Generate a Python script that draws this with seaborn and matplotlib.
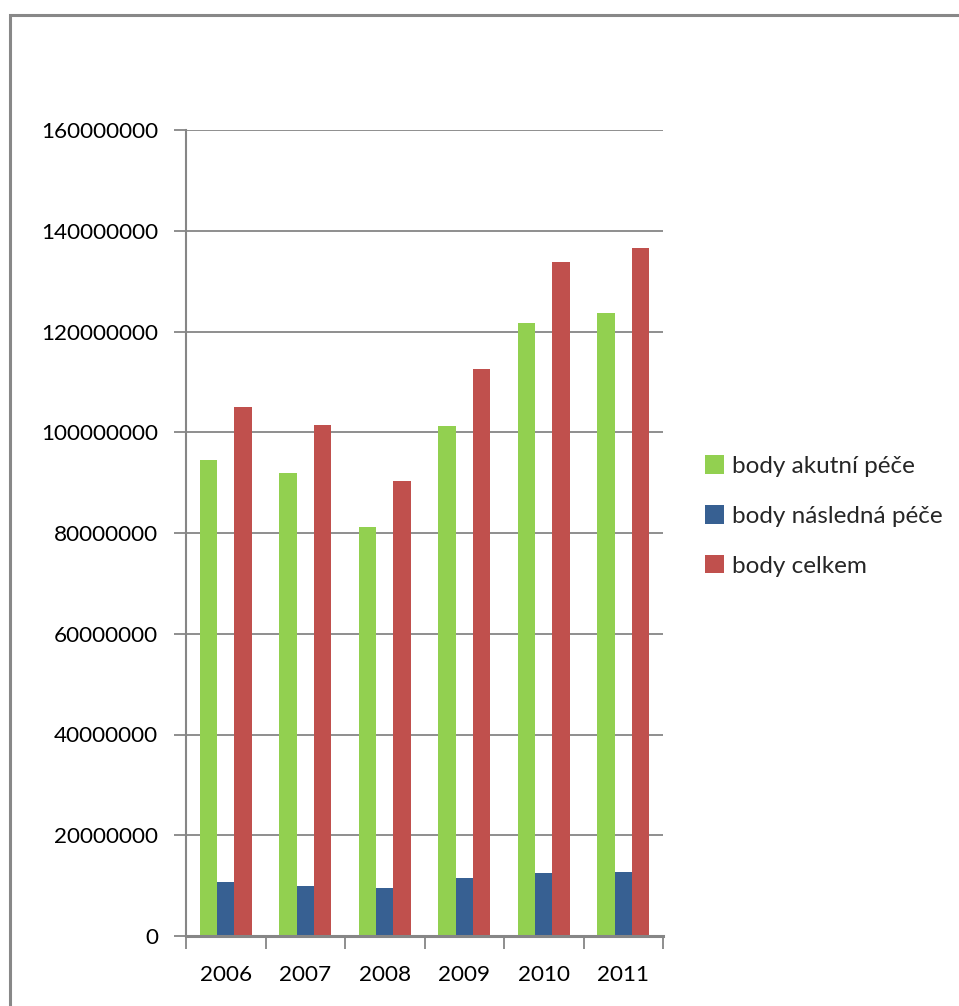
import matplotlib
matplotlib.use("Agg")
import matplotlib.pyplot as plt
import matplotlib.patches as mpatches
from matplotlib.ticker import FixedLocator, FuncFormatter
import seaborn as sns
import pandas as pd

years = ["2006", "2007", "2008", "2009", "2010", "2011"]
akutni = [94.5e6, 92.0e6, 81.2e6, 101.3e6, 121.7e6, 123.7e6]
nasledna = [10.7e6, 9.9e6, 9.5e6, 11.5e6, 12.5e6, 12.7e6]
celkem = [105.0e6, 101.5e6, 90.4e6, 112.6e6, 133.8e6, 136.6e6]
series_names = ["body akutní péče", "body následná péče", "body celkem"]
colors = ["#92D050", "#376092", "#C0504D"]
y_ticks = list(range(0, 160_000_001, 20_000_000))

df = pd.DataFrame({
    "rok": years * 3,
    "hodnota": akutni + nasledna + celkem,
    "serie": [series_names[0]] * 6 + [series_names[1]] * 6 + [series_names[2]] * 6,
})

sns.set_theme(style="white")
plt.rcParams["font.family"] = ["Lato", "DejaVu Sans"]

W, H = 959, 1006
fig = plt.figure(figsize=(W / 100, H / 100), dpi=100)
ax = fig.add_axes([186 / W, (H - 936) / H, (663 - 186) / W, (936 - 130) / H])

sns.barplot(data=df, x="rok", y="hodnota", hue="serie", hue_order=series_names,
            palette=colors, width=0.66, gap=0, saturation=1, ax=ax,
            edgecolor="none", linewidth=0, legend=True)

grid_c = "#868686"
ax.set_ylim(0, 160_000_000)
ax.set_xlim(-0.5, len(years) - 0.5)
ax.yaxis.set_major_locator(FixedLocator(y_ticks))
ax.yaxis.set_major_formatter(FuncFormatter(lambda v, p: f"{int(round(v))}"))
ax.grid(axis="y", color=grid_c, linewidth=1.3)
ax.set_axisbelow(True)
ax.set_xlabel("")
ax.set_ylabel("")

for s in ["top", "right"]:
    ax.spines[s].set_visible(False)
for s in ["left", "bottom"]:
    ax.spines[s].set_color(grid_c)
    ax.spines[s].set_linewidth(1.5)
ax.spines["bottom"].set_linewidth(2.2)

ax.tick_params(axis="y", which="major", length=9, width=1.3, color=grid_c,
               labelsize=16.2, labelcolor="#000000", pad=11, direction="out", left=True)
ax.xaxis.set_minor_locator(FixedLocator([i - 0.5 for i in range(len(years) + 1)]))
ax.tick_params(axis="x", which="minor", length=9, width=1.3, color=grid_c,
               direction="out", bottom=True)
ax.tick_params(axis="x", which="major", length=0, labelsize=16.2,
               labelcolor="#000000", pad=21)

handles = [mpatches.Patch(facecolor=c, edgecolor="none") for c in colors]
ax.legend(handles, series_names, loc="center left", bbox_to_anchor=(705 / W, (H - 516) / H),
          bbox_transform=fig.transFigure, frameon=False, fontsize=17.5,
          handlelength=0.8, handleheight=0.8, handletextpad=0.3,
          labelspacing=1.15, borderaxespad=0, borderpad=0)

# outer frame of the chart area
fig.patches.append(mpatches.Rectangle((10 / W, -0.05), 1.2, (H - 15) / H + 0.05,
                                      transform=fig.transFigure, fill=False,
                                      edgecolor="#888888", linewidth=2.2))

fig.savefig("out.png", dpi=100, facecolor="white")
